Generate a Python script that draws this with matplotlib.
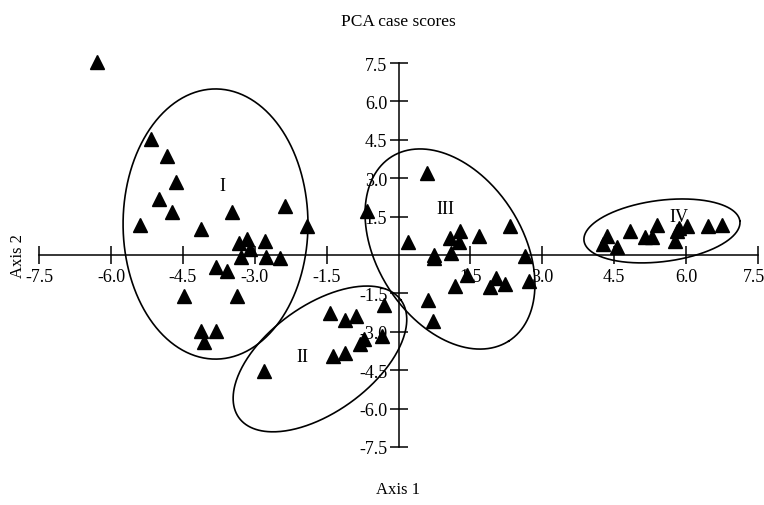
import numpy as np
import matplotlib
matplotlib.use("Agg")
import matplotlib.pyplot as plt
from matplotlib.transforms import ScaledTranslation

plt.rcParams['font.family'] = ['Liberation Serif', 'DejaVu Serif']
plt.rcParams['axes.unicode_minus'] = False

# ---- data ----
group1_x = [-5.17, -4.83, -4.65, -4.99, -4.72, -5.40, -4.12, -3.48, -2.36, -1.92, -3.34, -3.17,
            -2.79, -3.09, -3.29, -2.77, -2.47, -3.81, -3.59, -4.48, -3.38, -4.13, -3.81, -4.06]
group1_y = [4.53, 3.86, 2.84, 2.19, 1.67, 1.17, 1.02, 1.67, 1.90, 1.14, 0.47, 0.63,
            0.54, 0.23, -0.09, -0.07, -0.13, -0.48, -0.64, -1.59, -1.61, -2.96, -2.96, -3.41]
group2_x = [-1.43, -1.11, -0.89, -0.30, -0.80, -0.72, -0.34, -1.37, -1.12, -2.81]
group2_y = [-2.27, -2.53, -2.40, -1.94, -3.48, -3.30, -3.15, -3.93, -3.84, -4.52]
group3_x = [0.60, 0.19, 1.08, 1.28, 1.27, 1.69, 2.33, 0.74, 0.74, 1.09, 2.64, 1.42, 1.18,
            2.04, 1.91, 2.22, 2.73, 0.61, 0.71]
group3_y = [3.20, 0.52, 0.65, 0.95, 0.50, 0.73, 1.12, 0.00, -0.13, 0.08, -0.03, -0.78, -1.20,
            -0.91, -1.26, -1.13, -1.00, -1.75, -2.57]
group4_x = [4.36, 4.26, 4.57, 4.83, 5.15, 5.29, 5.39, 5.81, 5.77, 5.85, 6.02, 6.47, 6.75]
group4_y = [0.75, 0.43, 0.30, 0.93, 0.69, 0.69, 1.18, 0.95, 0.56, 1.05, 1.14, 1.14, 1.18]
other_x = [-6.29, -0.65]
other_y = [7.54, 1.73]

ell_labels = ["I", "II", "III", "IV"]
ell_cx = [-3.82, -1.64, 1.075, 5.50]
ell_cy = [1.21, -4.06, 0.234, 0.94]
ell_a = [1.93, 2.09, 2.28, 1.64]
ell_b = [2.82, 1.11, 1.52, 0.64]
ell_ang = [0.0, 36.0, -57.5, 7.2]
label_x = [-3.68, -2.01, 0.97, 5.86]
label_y = [2.70, -3.98, 1.80, 1.52]

ticks = [-7.5, -6.0, -4.5, -3.0, -1.5, 1.5, 3.0, 4.5, 6.0, 7.5]

# ---- figure ----
W, H = 764, 506
fig = plt.figure(figsize=(W / 100, H / 100), dpi=100)
ax_left_px, ax_w_px = 15.3, 766.4
ax_top_px, ax_h_px = 51.2, 409.6
ax = fig.add_axes([ax_left_px / W, (H - ax_top_px - ax_h_px) / H, ax_w_px / W, ax_h_px / H])
ax.set_xlim(-8, 8)
ax.set_ylim(-8, 8)
ax.patch.set_visible(False)

for s in ['top', 'right']:
    ax.spines[s].set_visible(False)
ax.spines['left'].set_position('zero')
ax.spines['bottom'].set_position('zero')
ax.spines['left'].set_bounds(-7.5, 7.5)
ax.spines['bottom'].set_bounds(-7.5, 7.5)
for s in ['left', 'bottom']:
    ax.spines[s].set_linewidth(1.1)
ax.set_xticks(ticks)
ax.set_yticks(ticks)
ax.set_xticklabels([f"{t:.1f}" for t in ticks])
ax.set_yticklabels([f"{t:.1f}" for t in ticks])
ax.tick_params(direction='inout', length=13, width=1.1, labelsize=13, colors='black')
ax.tick_params(axis='x', pad=3)
ax.tick_params(axis='y', pad=1.5)

# keep the right-most x label inside the canvas
last = ax.get_xticklabels()[-1]
last.set_transform(last.get_transform() + ScaledTranslation(-4 / 100, 0, fig.dpi_scale_trans))

mk = dict(marker='^', linestyle='none', color='black', markersize=9.5, clip_on=False, zorder=3)
for gx, gy in [(group1_x, group1_y), (group2_x, group2_y), (group3_x, group3_y),
               (group4_x, group4_y), (other_x, other_y)]:
    ax.plot(gx, gy, **mk)

# ellipses defined in isotropic (pixel-proportional) space
r = (ax_h_px / 16.0) / (ax_w_px / 16.0)
t = np.linspace(0, 2 * np.pi, 400)
for cx, cy, a, b, ang in zip(ell_cx, ell_cy, ell_a, ell_b, ell_ang):
    th = np.radians(ang)
    dx = a * np.cos(t) * np.cos(th) - b * np.sin(t) * np.sin(th)
    dy = a * np.cos(t) * np.sin(th) + b * np.sin(t) * np.cos(th)
    ax.plot(cx + dx, cy + dy / r, color='black', linewidth=1.2, clip_on=False, zorder=2)

for lab, lx, ly in zip(ell_labels, label_x, label_y):
    ax.text(lx, ly, lab, ha='center', va='center', fontsize=13)

fig.text(398 / W, 1 - 22 / H, "PCA case scores", ha='center', va='center', fontsize=12.5)
fig.text(398 / W, 1 - 490 / H, "Axis 1", ha='center', va='center', fontsize=12)
fig.text(18 / W, 1 - 256 / H, "Axis 2", ha='center', va='center', rotation=90, fontsize=12)

fig.savefig("out.png", dpi=100)
